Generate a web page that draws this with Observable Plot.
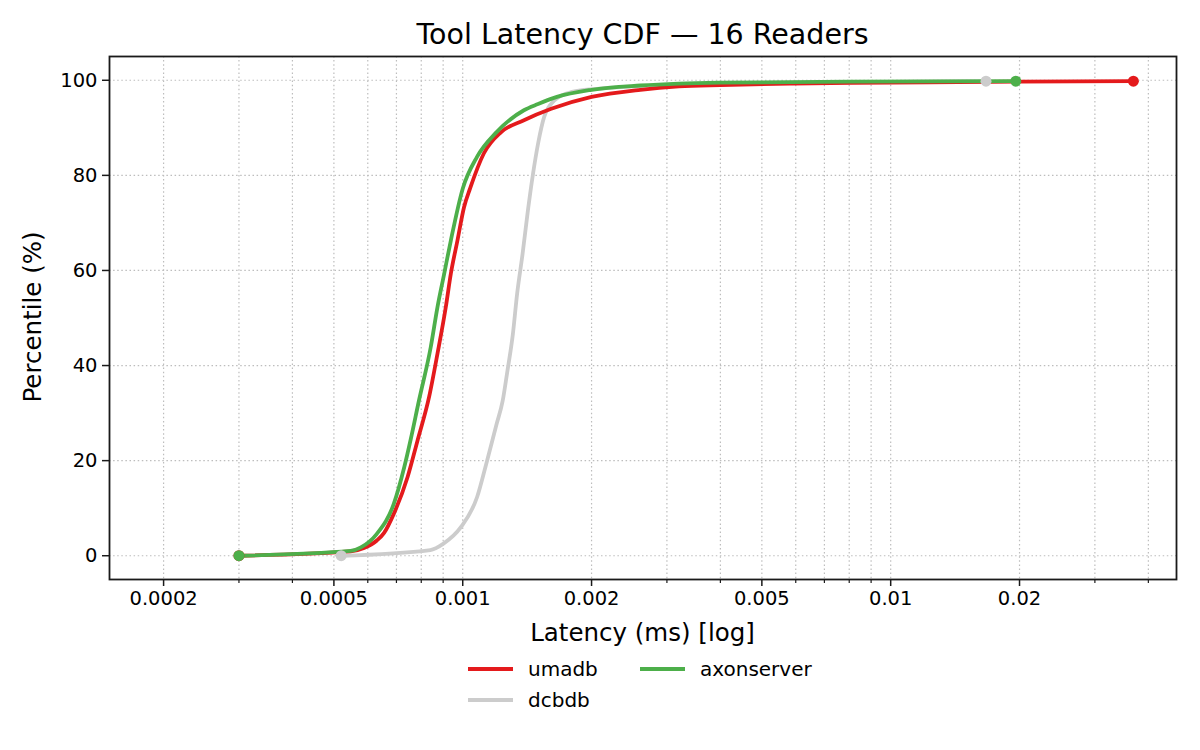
<!DOCTYPE html>
<html>
<head>
<meta charset="utf-8">
<script src="https://cdn.jsdelivr.net/npm/d3@7"></script>
<script src="https://cdn.jsdelivr.net/npm/@observablehq/plot@0.6"></script>
<style>
  html, body { margin: 0; padding: 0; background: #fff; }
  #wrap { position: relative; width: 1200px; height: 750px; font-family: "DejaVu Sans", sans-serif; color: #000; }
  #chart { position: absolute; left: 0; top: 0; }
  .title { position: absolute; left: 109px; width: 1067px; top: 18px; font-size: 28.5px; line-height: 34px; text-align: center; }
  .xlabel { position: absolute; left: 109px; width: 1067px; top: 618px; font-size: 24.5px; line-height: 30px; text-align: center; }
  .ylabel { position: absolute; left: -167px; top: 302px; width: 400px; height: 30px; font-size: 24.5px; line-height: 30px; text-align: center; transform: rotate(-90deg); transform-origin: 50% 50%; }
  .lg-h { position: absolute; width: 45px; height: 4px; }
  .lg-t { position: absolute; font-size: 20px; line-height: 24px; }
</style>
</head>
<body>
<div id="wrap">
  <div id="chart"></div>
  <div class="title">Tool Latency CDF — 16 Readers</div>
  <div class="xlabel">Latency (ms) [log]</div>
  <div class="ylabel">Percentile (%)</div>
  <div id="legend"></div>
</div>
<script>
// ---- data ----
const seriesNames = ["umadb", "dcbdb", "axonserver"];
const seriesColors = ["#e41a1c", "#cccccc", "#4daf4a"];

const umadbLatency = [0.0003, 0.000547, 0.000588, 0.00063, 0.000655, 0.00069, 0.000743, 0.000784, 0.000835, 0.000873, 0.000913, 0.000938, 0.000972, 0.001007, 0.00104, 0.00112, 0.00123, 0.00139, 0.00161, 0.002, 0.0026, 0.0032, 0.004, 0.0059, 0.01, 0.02, 0.0369];
const umadbPct     = [0, 0.9, 1.6, 3.2, 4.8, 8.8, 16.5, 24.2, 33.5, 42.5, 52.3, 59.3, 66.3, 73.3, 77.2, 84.6, 89.1, 91.6, 94.0, 96.5, 98.0, 98.7, 99.0, 99.3, 99.5, 99.7, 99.8];

const dcbdbLatency = [0.00052, 0.00084, 0.0009, 0.00099, 0.00108, 0.00114, 0.0012, 0.00124, 0.00127, 0.00131, 0.00134, 0.00138, 0.00142, 0.00146, 0.0015, 0.00155, 0.00164, 0.00179, 0.00206, 0.003, 0.005, 0.0167];
const dcbdbPct     = [0, 1.2, 2.5, 6.0, 12.3, 20.0, 27.7, 32.6, 38.5, 46.7, 55.1, 63.5, 72.6, 80.4, 86.7, 92.3, 95.8, 97.5, 98.2, 99.0, 99.4, 99.8];

const axonLatency = [0.0003, 0.000547, 0.000578, 0.00063, 0.00069, 0.00073, 0.000756, 0.00079, 0.000842, 0.000873, 0.000905, 0.000938, 0.001, 0.00108, 0.0012, 0.00139, 0.0015, 0.00166, 0.002, 0.0026, 0.0032, 0.004, 0.008, 0.0196];
const axonPct     = [0, 1.0, 1.75, 4.6, 10.9, 18.6, 24.5, 32.6, 43.9, 52.3, 59.3, 66.3, 77.2, 83.9, 89.1, 93.7, 95.0, 96.5, 98.0, 98.9, 99.3, 99.5, 99.7, 99.8];

const xMajorTicks = [0.0002, 0.0005, 0.001, 0.002, 0.005, 0.01, 0.02];
const xMinorTicks = [0.0003, 0.0004, 0.0006, 0.0007, 0.0008, 0.0009, 0.003, 0.004, 0.006, 0.007, 0.008, 0.009, 0.03, 0.04];
const yTicks = [0, 20, 40, 60, 80, 100];

// ---- build tables ----
const rows = (lat, pct) => lat.map((x, i) => ({latency: x, pct: pct[i]}));
const umadb = rows(umadbLatency, umadbPct);
const dcbdb = rows(dcbdbLatency, dcbdbPct);
const axon = rows(axonLatency, axonPct);
const ends = s => [s[0], s[s.length - 1]];

const gridStyle = {stroke: "#bdbdbd", strokeOpacity: 1, strokeWidth: 1.2, strokeDasharray: "1.5,2.6"};
const lineW = 3.8;

const chart = Plot.plot({
  width: 1200,
  height: 750,
  marginTop: 56,
  marginBottom: 171,
  marginLeft: 109,
  marginRight: 24,
  x: {type: "log", domain: [0.0001495, 0.04654]},
  y: {domain: [-5, 105]},
  style: {fontFamily: "'DejaVu Sans', sans-serif", fontSize: "19.5px", color: "#000", background: "#fff"},
  marks: [
    Plot.gridX(xMajorTicks.concat(xMinorTicks), gridStyle),
    Plot.gridY(yTicks, gridStyle),
    Plot.line(dcbdb, {x: "latency", y: "pct", stroke: seriesColors[1], strokeWidth: lineW, curve: "monotone-x"}),
    Plot.line(umadb, {x: "latency", y: "pct", stroke: seriesColors[0], strokeWidth: lineW, curve: "monotone-x"}),
    Plot.line(axon, {x: "latency", y: "pct", stroke: seriesColors[2], strokeWidth: lineW, curve: "monotone-x"}),
    Plot.dot(ends(umadb), {x: "latency", y: "pct", fill: seriesColors[0], r: 5.5}),
    Plot.dot(ends(dcbdb), {x: "latency", y: "pct", fill: seriesColors[1], r: 5.5}),
    Plot.dot(ends(axon), {x: "latency", y: "pct", fill: seriesColors[2], r: 5.5}),
    Plot.frame({stroke: "#1a1a1a", strokeWidth: 1.8}),
    Plot.axisX(xMajorTicks, {tickSize: 7, tickPadding: 5, tickFormat: d => String(d), label: null, stroke: "#1a1a1a", strokeWidth: 1.5, fontSize: 19.5}),
    Plot.axisX(xMinorTicks, {tickSize: 4, tickFormat: () => "", label: null, stroke: "#1a1a1a", strokeWidth: 1.2}),
    Plot.axisY(yTicks, {tickSize: 7, tickPadding: 5, label: null, stroke: "#1a1a1a", strokeWidth: 1.5, fontSize: 19.5})
  ]
});
document.getElementById("chart").appendChild(chart);

// ---- legend (2 columns, column-first like matplotlib) ----
const legend = document.getElementById("legend");
const legendPos = [
  {hx: 468, tx: 528, cy: 669},
  {hx: 468, tx: 528, cy: 700},
  {hx: 640, tx: 700, cy: 669}
];
seriesNames.forEach((name, i) => {
  const p = legendPos[i];
  const h = document.createElement("div");
  h.className = "lg-h";
  h.style.left = p.hx + "px";
  h.style.top = (p.cy - 2) + "px";
  h.style.background = seriesColors[i];
  legend.appendChild(h);
  const t = document.createElement("div");
  t.className = "lg-t";
  t.style.left = p.tx + "px";
  t.style.top = (p.cy - 12) + "px";
  t.textContent = name;
  legend.appendChild(t);
});
</script>
</body>
</html>
